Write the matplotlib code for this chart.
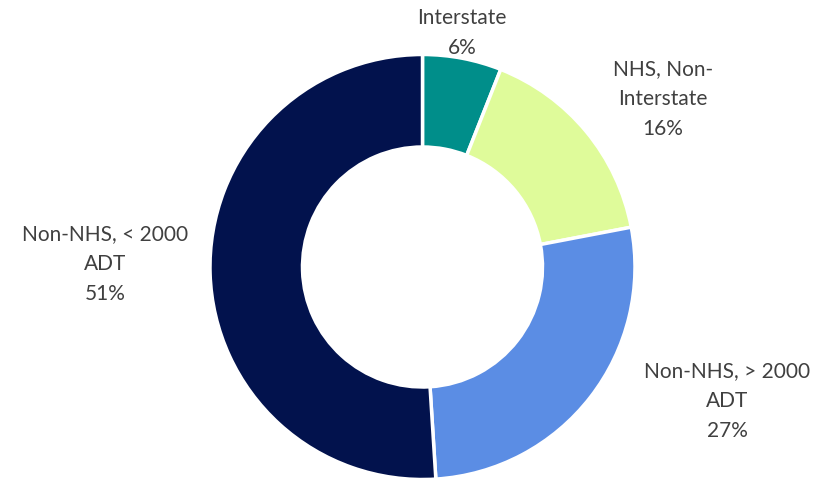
import matplotlib
matplotlib.use("Agg")
import matplotlib.pyplot as plt

# Share of road mileage by category
categories = ["Interstate", "NHS, Non-\nInterstate", "Non-NHS, > 2000\nADT", "Non-NHS, < 2000\nADT"]
shares = [6, 16, 27, 51]
colors = ["#008E8A", "#DFFB9A", "#5B8DE4", "#02124D"]

# label anchor points (figure pixel coordinates, origin top-left)
label_pos = [(462, 33), (663, 99), (727, 401), (105, 264)]

W, H = 835, 479
fig = plt.figure(figsize=(W / 100, H / 100), dpi=100)
ax = fig.add_axes([0, 0, 1, 1])

cx, cy, r_out, r_in = 422.5, H - 267, 212.5, 120
ax.pie(shares, colors=colors, startangle=90, counterclock=False,
       center=(cx, cy), radius=r_out, frame=True,
       wedgeprops=dict(width=r_out - r_in, edgecolor="white", linewidth=2.5))
ax.set_xlim(0, W)
ax.set_ylim(0, H)
ax.set_aspect("equal")
ax.axis("off")

for cat, val, (px, py) in zip(categories, shares, label_pos):
    ax.text(px, H - py, f"{cat}\n{val}%", ha="center", va="center",
            fontsize=15, color="#404040", family="Lato", linespacing=1.65)

fig.savefig("out.png", dpi=100)
